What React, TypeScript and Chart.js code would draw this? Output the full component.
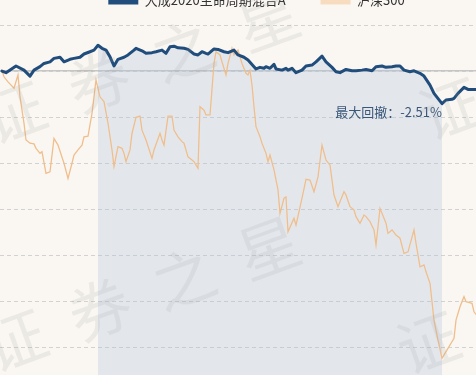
import React, { useEffect, useRef } from 'react';
import { Chart, registerables } from 'chart.js';

Chart.register(...registerables);

// ---- data (cumulative return, %) ----
const seriesNames = ['大成2020生命周期混合A', '沪深300'];

// trading-day index of each traced point
const fundDays = [0,2,7,11,14,16,19,21,24,26,29,31,34,36,39,41,44,46,48,50,52,54,56,58,61,63,66,67,70,72,75,77,80,82,84,86,88,91,93,96,98,100,102,103,106,108,111,113,116,118,121,123,126,127,129,131,132,134,136,137,140,142,143,145,147,150,152,155,157,160,162,165,167,169,172,175,177,180,182,185,187,190,192,195,197,199,201,204,206,209,211,214,216,220,222,225,226,228,231,233,237,239];
const fundValues = [0,-0.07,0.22,0.04,-0.22,0.04,0.19,0.33,0.40,0.55,0.60,0.40,0.51,0.55,0.60,0.74,0.84,0.91,1.12,0.99,0.91,0.62,0.22,0.51,0.60,0.70,0.91,0.99,0.88,0.77,0.80,0.84,0.91,0.77,1.06,1.08,1.01,0.99,0.94,0.74,0.70,0.84,0.77,0.74,0.96,0.94,0.84,0.80,0.91,0.70,0.60,0.48,0.19,0.09,0.16,0.12,0.19,0.12,0.29,0.09,0.04,0.12,0.04,0.12,-0.07,0.04,0.22,0.26,0.40,0.65,0.40,0.16,-0.03,-0.07,0.07,0.01,0.01,0.04,0.07,0.01,0.19,0.22,0.16,0.19,0.22,0.22,0.04,-0.03,0.01,-0.10,-0.22,-0.61,-0.97,-1.42,-1.26,-1.23,-1.19,-0.97,-0.71,-0.80,-0.80,-0.80];

const hsDays = [0,1,3,6,8,9,11,12,14,16,17,19,20,22,24,26,28,31,33,35,36,38,40,41,43,45,47,49,51,53,55,56,58,60,61,62,64,65,67,69,70,72,75,76,79,80,81,83,85,86,88,90,91,93,95,96,98,99,101,102,104,106,107,109,110,112,113,115,116,118,119,120,122,123,124,125,126,127,129,130,132,133,134,136,138,139,141,142,143,146,147,150,152,154,156,158,160,162,164,166,168,171,172,174,176,177,179,181,182,184,186,187,189,192,193,195,197,199,201,203,206,207,209,211,212,214,216,218,220,222,226,227,229,231,232,235,236,239];
const hsValues = [0,-0.25,-0.47,-0.75,-0.17,-1.12,-2.27,-3.00,-3.14,-3.17,-3.36,-3.58,-3.51,-4.45,-4.38,-2.93,-3.22,-4.01,-4.67,-4.01,-3.65,-3.43,-3.22,-2.86,-2.83,-1.84,-0.39,-1.12,-1.33,-2.27,-3.43,-4.16,-3.29,-3.36,-3.58,-3.94,-3.43,-2.71,-2.01,-1.96,-2.57,-3.00,-3.80,-3.43,-2.71,-3.00,-3.22,-1.96,-1.96,-2.57,-2.86,-3.07,-3.14,-3.73,-3.87,-3.94,-4.23,-1.55,-1.70,-1.91,-1.91,0.33,0.84,0.70,0.40,-0.17,0.33,0.99,0.70,0.91,0.62,0.33,-0.10,-0.17,0.04,-0.61,-1.55,-2.42,-2.86,-3.14,-3.58,-3.94,-3.65,-4.30,-5.17,-6.19,-5.53,-5.47,-6.99,-6.40,-6.70,-5.53,-4.71,-4.74,-5.25,-4.60,-3.22,-3.87,-4.09,-5.39,-5.90,-5.25,-5.39,-5.90,-6.04,-6.33,-6.62,-6.26,-6.33,-6.55,-6.91,-7.57,-5.97,-6.62,-7.06,-6.91,-7.13,-7.27,-7.93,-7.86,-6.91,-7.49,-8.51,-8.43,-8.73,-9.23,-10.83,-11.70,-12.49,-12.20,-11.62,-10.83,-10.25,-9.81,-10.03,-10.10,-10.47,-10.80];

const drawdownStartDay = 48;
const drawdownEndDay = 220;
const drawdownLabel = '最大回撤：-2.51%';
const watermarkText = '证券之星';

const FONT = '"Noto Sans CJK SC", "Noto Sans", sans-serif';

const fundPoints = fundDays.map((d, i) => ({ x: d, y: fundValues[i] }));
const hsPoints = hsDays.map((d, i) => ({ x: d, y: hsValues[i] }));
const drawdownPoints = fundPoints.filter(p => p.x >= drawdownStartDay && p.x <= drawdownEndDay);

const watermarkPlugin = {
  id: 'watermark',
  afterDraw(chart: any) {
    const ctx = chart.ctx;
    const offY = 41;
    const origins = [[14, 112], [15, 340], [450, 108], [428, 342]];
    const ang = -20 * Math.PI / 180;
    const step = 90;
    ctx.save();
    ctx.font = `62px ${FONT}`;
    ctx.fillStyle = 'rgba(150,150,150,0.14)';
    ctx.textAlign = 'center';
    ctx.textBaseline = 'middle';
    origins.forEach(([ox, oy]) => {
      [...watermarkText].forEach((ch, i) => {
        const cx = ox + i * step * Math.cos(ang);
        const cy = oy + offY + i * step * Math.sin(ang);
        ctx.save();
        ctx.translate(cx, cy);
        ctx.rotate(ang);
        ctx.fillText(ch, 0, 0);
        ctx.restore();
      });
    });
    ctx.restore();
  },
};

const annotationPlugin = {
  id: 'ddLabel',
  afterDatasetsDraw(chart: any) {
    const ctx = chart.ctx;
    const xs = chart.scales.x;
    const ys = chart.scales.y;
    const trough = Math.min(...drawdownPoints.map(p => p.y));
    const x = xs.getPixelForValue(drawdownEndDay);
    const y = ys.getPixelForValue(trough) + 8;
    ctx.save();
    ctx.font = `13px ${FONT}`;
    ctx.fillStyle = '#3a5678';
    ctx.textAlign = 'right';
    ctx.textBaseline = 'middle';
    ctx.fillText(drawdownLabel, x, y);
    ctx.restore();
  },
};

export default function App() {
  const ref = useRef<HTMLCanvasElement>(null);
  useEffect(() => {
    Chart.defaults.font.family = FONT;
    const chart = new Chart(ref.current as HTMLCanvasElement, {
      type: 'line',
      data: {
        datasets: [
          {
            label: seriesNames[0],
            data: fundPoints,
            borderColor: '#214d7c',
            backgroundColor: '#214d7c',
            borderWidth: 3,
            pointRadius: 0,
            tension: 0,
            borderJoinStyle: 'round',
            borderCapStyle: 'round',
            fill: false,
          },
          {
            label: seriesNames[1],
            data: hsPoints,
            borderColor: '#f0be8c',
            backgroundColor: '#f8dcc0',
            borderWidth: 1.3,
            pointRadius: 0,
            tension: 0,
            fill: false,
          },
          {
            label: 'drawdown',
            data: drawdownPoints,
            borderColor: 'transparent',
            backgroundColor: 'rgba(177,197,222,0.3)',
            borderWidth: 1,
            pointRadius: 0,
            tension: 0,
            fill: 'start',
          },
        ],
      } as any,
      options: {
        responsive: false,
        animation: false,
        events: [],
        layout: { padding: 0 },
        plugins: {
          tooltip: { enabled: false },
          legend: {
            display: true,
            position: 'top',
            labels: {
              font: { size: 13, family: FONT },
              color: '#333333',
              boxWidth: 30,
              boxHeight: 8,
              padding: 35,
              filter: (item: any) => item.datasetIndex < 2,
              generateLabels: (chart: any) =>
                (Chart.defaults.plugins.legend.labels as any).generateLabels(chart).map((l: any) => ({ ...l, lineWidth: 0 })),
            },
          },
        },
        scales: {
          x: { type: 'linear', display: false, min: -1, max: 255.5 },
          y: {
            type: 'linear',
            position: 'left',
            min: -14,
            max: 2.35,
            display: true,
            ticks: { display: false, stepSize: 2, includeBounds: false },
            grid: { color: '#d2d2d2', lineWidth: 1, drawTicks: false },
            border: { display: false, dash: [4, 3] },
          },
          yZero: {
            type: 'linear',
            position: 'left',
            min: -14,
            max: 2.35,
            display: true,
            ticks: { display: false },
            grid: { color: '#c6c6c6', lineWidth: 1.5, drawTicks: false },
            border: { display: false },
            afterBuildTicks: (axis: any) => { axis.ticks = [{ value: 0 }]; },
          },
        },
      } as any,
      plugins: [annotationPlugin, watermarkPlugin],
    });
    return () => chart.destroy();
  }, []);

  return (
    <div style={{ position: 'fixed', left: 0, top: 0, width: 476, height: 375, overflow: 'hidden', background: '#faf7f2' }}>
      <canvas ref={ref} width={513} height={434} style={{ position: 'absolute', left: 0, top: -41, width: 513, height: 434 }} />
    </div>
  );
}
